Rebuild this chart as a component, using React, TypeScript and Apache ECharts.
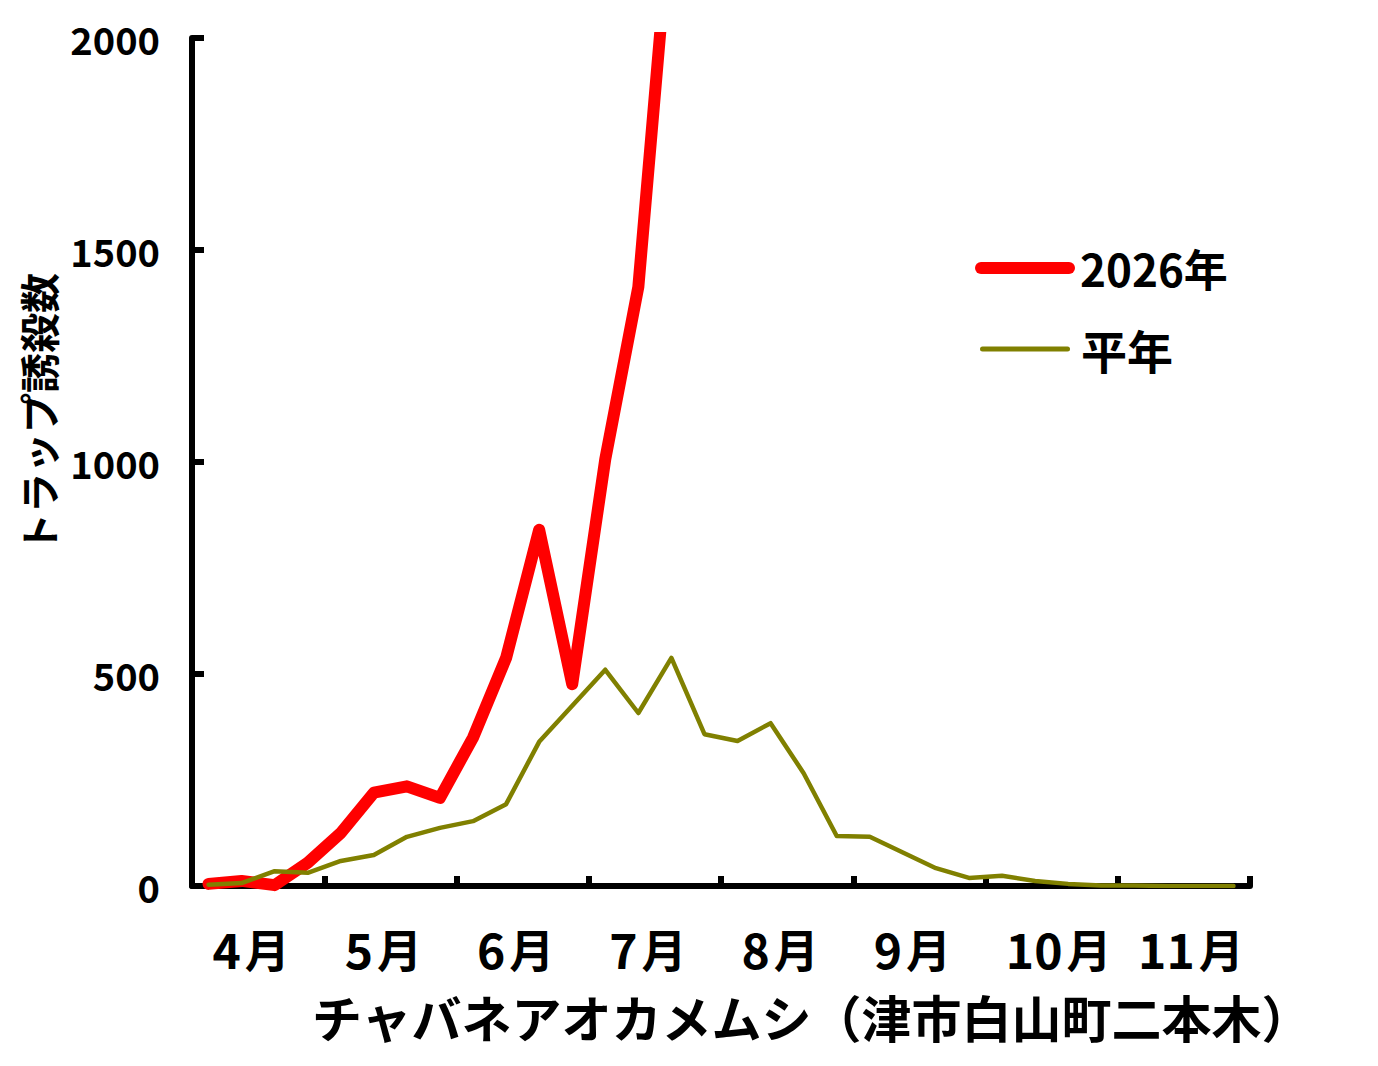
import React, { useEffect, useRef } from 'react';
import * as echarts from 'echarts';

const FONT = '"Noto Sans CJK JP", "Noto Sans", sans-serif';

const months = ['4月', '5月', '6月', '7月', '8月', '9月', '10月', '11月'];
const weekOfMonth = ['1', '2', '3', '4'];
const weeks = months.flatMap((m) => weekOfMonth.map((w) => `${m}${w}`));

const yMin = 0;
const yMax = 2000;
const yInterval = 500;

const seriesNames = ['2026年', '平年'];
const seriesColors = ['#FF0000', '#808000'];
const values2026 = [5, 12, 2, 55, 125, 220, 235, 208, 350, 538, 840, 476, 1007, 1413, 2320];
const valuesNormal = [
  3, 7, 35, 31, 59, 73, 116, 137, 153, 193, 340, 425, 510, 408, 538, 358,
  342, 384, 266, 118, 116, 79, 42, 19, 24, 12, 5, 1, 1, 0, 0, 0,
];

const yAxisTitle = 'トラップ誘殺数';
const xAxisTitle = 'チャバネアオカメムシ（津市白山町二本木）';

const RED_ICON = 'path://M6,0 H94 A6,6 0 0 1 94,12 H6 A6,6 0 0 1 6,0 Z';
const OLIVE_ICON = 'path://M2.5,0 H87.5 A2.5,2.5 0 0 1 87.5,5 H2.5 A2.5,2.5 0 0 1 2.5,0 Z';

export default function App() {
  const ref = useRef<HTMLDivElement>(null);

  useEffect(() => {
    if (!ref.current) return;
    const chart = echarts.init(ref.current, undefined, { renderer: 'svg' });
    const labelBase = { lineHeight: 40, fontFamily: FONT, fontWeight: 'bold', color: '#000' };
    chart.setOption({
      animation: false,
      backgroundColor: '#fff',
      textStyle: { fontFamily: FONT },
      grid: { left: 192, right: 128, top: 38, bottom: 180, containLabel: false },
      legend: [
        {
          orient: 'vertical',
          left: 970,
          top: 241,
          itemWidth: 100,
          itemHeight: 12,
          itemGap: 0,
          textStyle: { fontSize: 44, color: '#000', fontFamily: FONT, fontWeight: 'bold' },
          data: [{ name: seriesNames[0], icon: RED_ICON }],
        },
        {
          orient: 'vertical',
          left: 975,
          top: 321,
          itemWidth: 90,
          itemHeight: 5,
          itemGap: 0,
          textStyle: {
            fontSize: 46,
            color: '#000',
            fontFamily: FONT,
            fontWeight: 'bold',
            padding: [0, 0, 0, 6],
          },
          data: [{ name: seriesNames[1], icon: OLIVE_ICON }],
        },
      ],
      xAxis: [
        {
          type: 'category',
          data: months,
          boundaryGap: true,
          position: 'bottom',
          axisLine: { show: true, lineStyle: { color: '#000', width: 6 } },
          axisTick: { show: true, inside: true, length: 10, lineStyle: { color: '#000', width: 6 } },
          axisLabel: {
            color: '#000',
            margin: 42,
            interval: 0,
            lineHeight: 40,
            formatter: (v: string) => {
              const m = v.match(/^(\d+)(月)$/);
              if (!m) return v;
              return m[1].length === 1 ? `{d1|${m[1]}}{m1|${m[2]}}` : `{d2|${m[1]}}{m|${m[2]}}`;
            },
            rich: {
              d1: { ...labelBase, fontSize: 48, padding: [0, 4, 0, 0] },
              d2: { ...labelBase, fontSize: 48, padding: [0, 4, 0, 14] },
              m: { ...labelBase, fontSize: 45 },
              m1: { ...labelBase, fontSize: 45, padding: [0, 14, 0, 0] },
            },
          },
          splitLine: { show: false },
        },
        {
          type: 'category',
          data: weeks,
          boundaryGap: true,
          position: 'bottom',
          show: false,
        },
      ],
      yAxis: {
        type: 'value',
        min: yMin,
        max: yMax,
        interval: yInterval,
        axisLine: { show: true, lineStyle: { color: '#000', width: 6 } },
        axisTick: { show: true, inside: true, length: 12, lineStyle: { color: '#000', width: 6 } },
        axisLabel: {
          fontSize: 38,
          color: '#000',
          margin: 32,
          fontFamily: FONT,
          fontWeight: 'bold',
          formatter: (v: number) => String(v),
        },
        splitLine: { show: false },
      },
      series: [
        {
          name: seriesNames[0],
          type: 'line',
          xAxisIndex: 1,
          data: values2026,
          symbol: 'none',
          clip: true,
          color: seriesColors[0],
          lineStyle: { color: seriesColors[0], width: 12, cap: 'round', join: 'round' },
        },
        {
          name: seriesNames[1],
          type: 'line',
          xAxisIndex: 1,
          data: valuesNormal,
          symbol: 'none',
          clip: true,
          color: seriesColors[1],
          lineStyle: { color: seriesColors[1], width: 4.5, cap: 'round', join: 'round' },
        },
      ],
      graphic: [
        {
          type: 'text',
          x: 38,
          y: 413,
          rotation: Math.PI / 2,
          style: {
            text: yAxisTitle,
            fontSize: 40,
            fontFamily: FONT,
            fontWeight: 'bold',
            fill: '#000',
            align: 'center',
            verticalAlign: 'middle',
          },
        },
        {
          type: 'text',
          x: 312,
          y: 1016,
          style: {
            text: xAxisTitle,
            fontSize: 50,
            fontFamily: FONT,
            fontWeight: 'bold',
            fill: '#000',
            align: 'left',
            verticalAlign: 'middle',
          },
        },
      ],
    });
    return () => chart.dispose();
  }, []);

  return (
    <div
      ref={ref}
      style={{ position: 'fixed', left: 0, top: 0, width: 1378, height: 1066, background: '#fff' }}
    />
  );
}
